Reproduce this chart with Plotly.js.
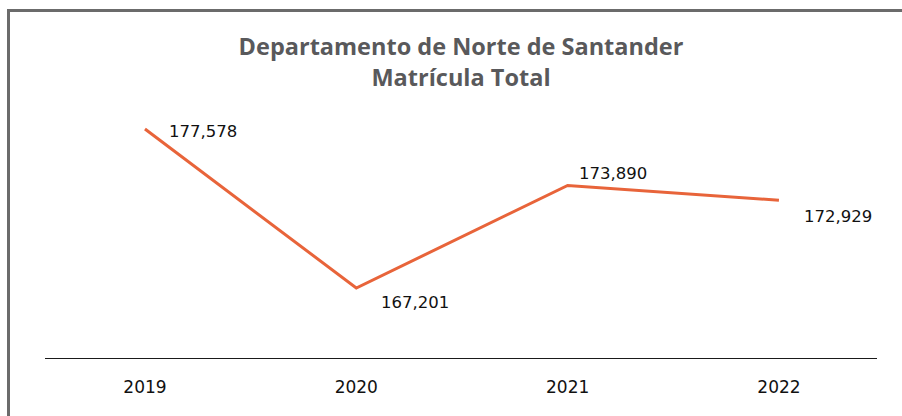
<!DOCTYPE html>
<html>
<head>
<meta charset="utf-8">
<script src="https://cdn.plot.ly/plotly-3.0.1.min.js"></script>
<style>
  html, body { margin: 0; padding: 0; background: #fff; }
  #wrap { position: relative; width: 902px; height: 416px; overflow: hidden; }
  #chart { width: 902px; height: 416px; }
  #frame { position: absolute; left: 7px; top: 9px; width: 900px; height: 420px;
           border-left: 3px solid #6b6b6b; border-top: 3px solid #6b6b6b; pointer-events: none; }
</style>
</head>
<body>
<div id="wrap">
  <div id="chart"></div>
  <div id="frame"></div>
</div>
<script>
// Data
const years = ["2019", "2020", "2021", "2022"];
const enrollment = [177578, 167201, 173890, 172929];
const chartTitle = "Departamento de Norte de Santander<br>Matrícula Total";

// Label placement (style only)
const labelShift = [
  {dx: 22, dy: -2},
  {dx: 23, dy: -14},
  {dx: 9,  dy: 12},
  {dx: 23, dy: -16}
];

const numFont = "DejaVu Sans, sans-serif";
const titleFont = "Open Sans, Noto Sans, sans-serif";
const fmt = v => v.toLocaleString("en-US");

const trace = {
  type: "scatter",
  mode: "lines",
  x: years,
  y: enrollment,
  line: {color: "#e8643a", width: 3},
  hoverinfo: "skip"
};

const annotations = years.map((yr, i) => ({
  x: i, y: enrollment[i], xref: "x", yref: "y",
  text: fmt(enrollment[i]),
  showarrow: false,
  xanchor: "left", yanchor: "middle",
  xshift: labelShift[i].dx, yshift: labelShift[i].dy,
  font: {family: numFont, size: 16.5, color: "#111111"}
}));

const layout = {
  width: 902, height: 416,
  margin: {l: 45, r: 25, t: 100, b: 58},
  paper_bgcolor: "#ffffff",
  plot_bgcolor: "#ffffff",
  showlegend: false,
  title: {
    text: chartTitle,
    x: 0.5, xref: "paper", xanchor: "center",
    y: 1 - 55/416, yref: "container", yanchor: "top",
    font: {family: titleFont, size: 23.5, color: "#59595b", weight: 700}
  },
  xaxis: {
    type: "category",
    range: [-0.473, 3.464],
    showgrid: false, zeroline: false,
    showline: true, linecolor: "#1a1a1a", linewidth: 1,
    ticks: "", ticklabelstandoff: 14,
    tickfont: {family: numFont, size: 17, color: "#111111"},
    fixedrange: true
  },
  yaxis: {
    range: [162632, 179471],
    showgrid: false, zeroline: false, showline: false,
    showticklabels: false, ticks: "",
    fixedrange: true
  },
  annotations: annotations
};

Plotly.newPlot("chart", [trace], layout, {displayModeBar: false, staticPlot: true});
</script>
</body>
</html>
